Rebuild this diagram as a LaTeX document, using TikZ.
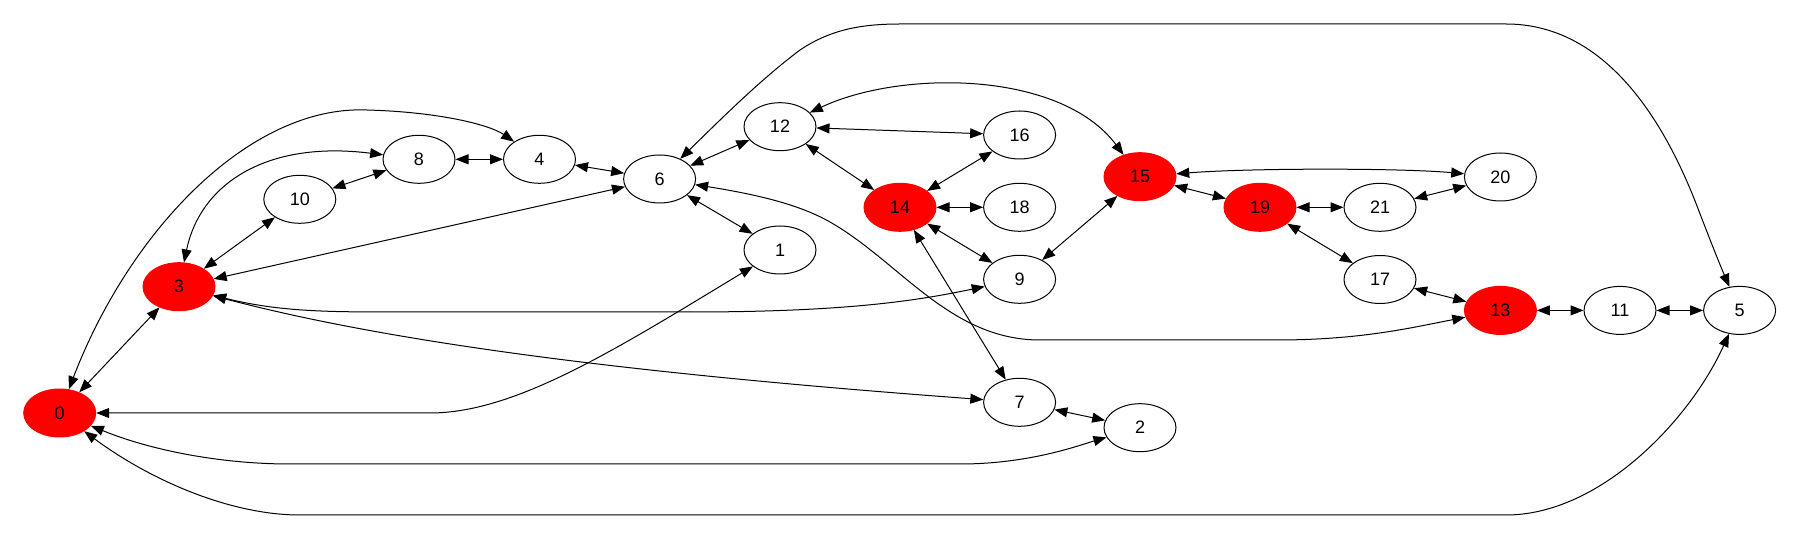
\documentclass[tikz,border=0pt]{standalone}
\usepackage{fontspec}
\setmainfont{Liberation Sans}
\usepackage{tikz}
\usetikzlibrary{shapes.geometric, arrows.meta, positioning}

\begin{document}
\begin{tikzpicture}[
    x=0.5pt, y=-0.5pt,
    >={Triangle[length=6.5pt, width=5pt]},
    vert/.style={ellipse, draw, line width=0.5pt, minimum width=36pt, minimum height=24pt, inner sep=0pt, font=\fontsize{9}{10}\selectfont},
    hot/.style={vert, draw=red, fill=red},
    link/.style={<->, line width=0.5pt}
]
\useasboundingbox (0,0) rectangle (1800,539);

% Nodes
\node[hot]  (n0)  at (59.7,413)  {0};
\node[hot]  (n3)  at (179,286.7) {3};
\node[vert] (n10) at (299.8,199.3) {10};
\node[vert] (n8)  at (419,159.3) {8};
\node[vert] (n4)  at (539.5,159.3) {4};
\node[vert] (n6)  at (659.6,179) {6};
\node[vert] (n12) at (780,126.7) {12};
\node[vert] (n1)  at (780,250) {1};
\node[hot]  (n14) at (900,207.3) {14};
\node[vert] (n16) at (1019.6,135) {16};
\node[vert] (n18) at (1019.6,207.3) {18};
\node[vert] (n9)  at (1019.6,279.3) {9};
\node[vert] (n7)  at (1019.6,402.3) {7};
\node[vert] (n2)  at (1140,427.7) {2};
\node[hot]  (n15) at (1140,176.7) {15};
\node[hot]  (n19) at (1260,207.3) {19};
\node[vert] (n21) at (1380,207.3) {21};
\node[vert] (n17) at (1380,279.5) {17};
\node[vert] (n20) at (1500.4,177) {20};
\node[hot]  (n13) at (1500.4,310.4) {13};
\node[vert] (n11) at (1620,310.4) {11};
\node[vert] (n5)  at (1739.6,310.4) {5};

% Straight edges
\draw[link] (n0) -- (n3);
\draw[link] (n3) -- (n10);
\draw[link] (n10) -- (n8);
\draw[link] (n8) -- (n4);
\draw[link] (n4) -- (n6);
\draw[link] (n3) -- (n6);
\draw[link] (n6) -- (n12);
\draw[link] (n6) -- (n1);
\draw[link] (n12) -- (n16);
\draw[link] (n12) -- (n14);
\draw[link] (n16) -- (n14);
\draw[link] (n14) -- (n18);
\draw[link] (n14) -- (n9);
\draw[link] (n14) -- (n7);
\draw[link] (n9) -- (n15);
\draw[link] (n15) -- (n19);
\draw[link] (n19) -- (n21);
\draw[link] (n21) -- (n20);
\draw[link] (n19) -- (n17);
\draw[link] (n17) -- (n13);
\draw[link] (n13) -- (n11);
\draw[link] (n11) -- (n5);
\draw[link] (n7) -- (n2);

% Curved edges
\draw[link] (n0) .. controls (130,230) and (250,105) .. (367,110) .. controls (440,112) and (490,125) .. (n4);
\draw[link] (n3) .. controls (200,185) and (265,140) .. (n8);
\draw[link] (n3) .. controls (280,312) and (330,312) .. (400,312) -- (690,312) .. controls (850,312) and (920,300) .. (n9);
\draw[link] (n3) .. controls (400,345) and (650,375) .. (n7);
\draw[link] (n0) -- (430,413) .. controls (515,413) and (615,350) .. (n1);
\draw[link] (n0) .. controls (150,450) and (220,464) .. (290,464) -- (960,464) .. controls (1030,464) and (1080,445) .. (n2);
\draw[link] (n0) .. controls (150,480) and (230,515) .. (300,515) -- (1506,515) .. controls (1600,515) and (1690,420) .. (n5);
\draw[link] (n6) .. controls (720,120) and (760,80) .. (800,50) .. controls (830,30) and (860,24) .. (900,24) -- (1506,24) .. controls (1600,24) and (1660,110) .. (1697,206) .. controls (1710,240) and (1720,265) .. (n5);
\draw[link] (n6) .. controls (760,195) and (800,205) .. (830,222) .. controls (900,262) and (950,340) .. (1040,340) -- (1276,340) .. controls (1360,340) and (1410,328) .. (n13);
\draw[link] (n12) .. controls (900,70) and (1060,70) .. (n15);
\draw[link] (n15) .. controls (1250,168) and (1400,168) .. (n20);

\end{tikzpicture}
\end{document}
